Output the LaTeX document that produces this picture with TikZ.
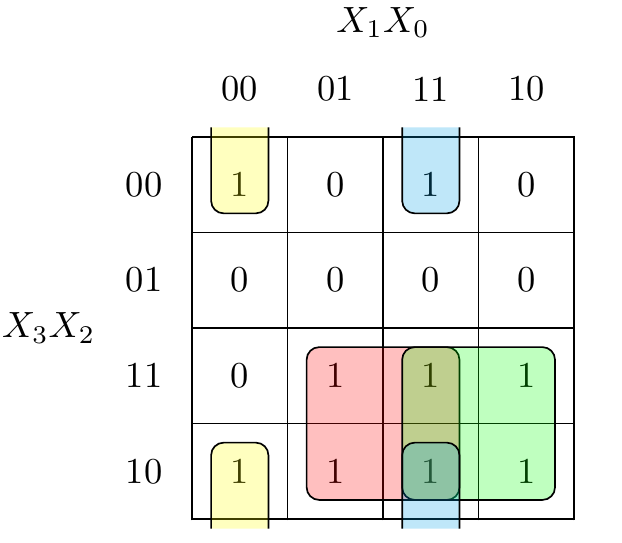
\documentclass[tikz,border=0pt]{standalone}
\usepackage{tikz}
\usetikzlibrary{positioning}
\definecolor{grpyellow}{RGB}{255,255,0}
\definecolor{grpblue}{RGB}{0,160,230}
\definecolor{grpred}{RGB}{255,0,0}
\definecolor{grpgreen}{RGB}{0,255,0}
\tikzset{
  cell/.style={
    minimum size=9.195mm, inner sep=0pt, outer sep=0pt,
    scale=0.87, transform shape
  },
  hdr/.style={inner sep=0pt, scale=0.87, transform shape},
  grp/.style={draw=black, thin, rounded corners=3pt, fill opacity=0.25}
}

\begin{document}
\begin{tikzpicture}[node distance=0pt]
\useasboundingbox (-1.608,1.147) rectangle (3.601,-3.400);
% map cells
\node[cell] (c11) at (0.4,-0.4) {1};
\node[cell, right=of c11] (c12) {0};
\node[cell, right=of c12] (c13) {1};
\node[cell, right=of c13] (c14) {0};
\node[cell, below=of c11] (c21) {0};
\node[cell, right=of c21] (c22) {0};
\node[cell, right=of c22] (c23) {0};
\node[cell, right=of c23] (c24) {0};
\node[cell, below=of c21] (c31) {0};
\node[cell, right=of c31] (c32) {1};
\node[cell, right=of c32] (c33) {1};
\node[cell, right=of c33] (c34) {1};
\node[cell, below=of c31] (c41) {1};
\node[cell, right=of c41] (c42) {1};
\node[cell, right=of c42] (c43) {1};
\node[cell, right=of c43] (c44) {1};
\draw[thin] (0,0) grid[step=8mm] (3.21,-3.21);
% headers
\node[hdr] (top) at (1.6,0.96) {$X_1X_0$};
\node[hdr] (h1) at (0.4,0.4) {00};
\node[hdr] (h2) at (1.2,0.4) {01};
\node[hdr] (h3) at (2.0,0.4) {11};
\node[hdr] (h4) at (2.8,0.4) {10};
\node[hdr] (side) at (-1.2,-1.6) {$X_3X_2$};
\node[hdr] (v1) at (-0.4,-0.4) {00};
\node[hdr] (v2) at (-0.4,-1.2) {01};
\node[hdr] (v3) at (-0.4,-2.0) {11};
\node[hdr] (v4) at (-0.4,-2.8) {10};
% groups
\draw[grp, fill=grpyellow] (0.16,0.08) -- (0.16,-0.64) -- (0.64,-0.64) -- (0.64,0.08);
\draw[grp, fill=grpyellow] (0.16,-3.28) -- (0.16,-2.56) -- (0.64,-2.56) -- (0.64,-3.28);
\draw[grp, fill=grpred] (0.96,-1.76) rectangle (2.24,-3.04);
\draw[grp, fill=grpgreen] (1.76,-1.76) rectangle (3.04,-3.04);
\draw[grp, fill=grpblue] (1.76,0.08) -- (1.76,-0.64) -- (2.24,-0.64) -- (2.24,0.08);
\draw[grp, fill=grpblue] (1.76,-3.28) -- (1.76,-2.56) -- (2.24,-2.56) -- (2.24,-3.28);
\end{tikzpicture}
\end{document}
